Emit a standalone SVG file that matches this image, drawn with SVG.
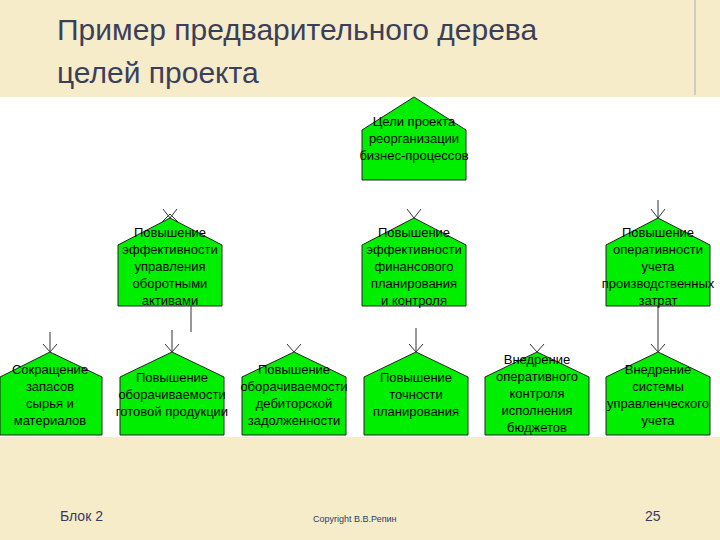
<svg xmlns="http://www.w3.org/2000/svg" width="720" height="540" viewBox="0 0 720 540">
<style>
.n{fill:#00ee00;stroke:#222;stroke-width:1}
.t{font-family:"Liberation Sans",Arial,sans-serif;font-size:13px;fill:#000;text-anchor:middle}
.c{stroke:#333;stroke-width:1;fill:none}
.h{font-family:"Liberation Sans",Arial,sans-serif;font-size:30px;fill:#3a3f5c}
.f{font-family:"Liberation Sans",Arial,sans-serif;fill:#333a66}
</style>
<rect width="720" height="540" fill="#f7ecc9"/>
<rect x="0" y="97" width="720" height="340" fill="#fff"/>
<line x1="695" y1="0" x2="695" y2="95" stroke="#aab" stroke-width="1"/>
<text class="h" x="57" y="40">Пример предварительного дерева</text>
<text class="h" x="57" y="83">целей проекта</text>

<g id="connectors" class="c">
<line x1="658" y1="200" x2="658" y2="218"/>
<line x1="191" y1="306" x2="191" y2="332"/>
<line x1="658" y1="306" x2="658" y2="352"/>
<line x1="50" y1="332" x2="50" y2="352"/>
<line x1="172" y1="330" x2="172" y2="352"/>
<line x1="416" y1="328" x2="416" y2="352"/>
<path d="M163 209 L170 218 L177 209 M160 224 L170 214 L180 224"/>
<path d="M407 209 L414 218 L421 209"/>
<path d="M651 209 L658 218 L665 209"/>
<path d="M43 344 L50 352 L57 344"/>
<path d="M165 344 L172 352 L179 344"/>
<path d="M287 344 L294 352 L301 344"/>
<path d="M409 344 L416 352 L423 344"/>
<path d="M530 344 L537 352 L544 344"/>
<path d="M651 344 L658 352 L665 344"/>
</g>

<g id="n0"><path class="n" d="M362 130 L414 97 L466 130 L466 180 L362 180 Z"/>
<text class="t" x="414" y="126">Цели проекта</text><text class="t" x="414" y="143">реорганизации</text><text class="t" x="414" y="160">бизнес-процессов</text></g>

<g id="n1"><path class="n" d="M118 245 L170 218 L222 245 L222 306 L118 306 Z"/>
<text class="t" x="170" y="237">Повышение</text><text class="t" x="170" y="254">эффективности</text><text class="t" x="170" y="271">управления</text><text class="t" x="170" y="288">оборотными</text><text class="t" x="170" y="305">активами</text></g>

<g id="n2"><path class="n" d="M362 245 L414 218 L466 245 L466 306 L362 306 Z"/>
<text class="t" x="414" y="237">Повышение</text><text class="t" x="414" y="254">эффективности</text><text class="t" x="414" y="271">финансового</text><text class="t" x="414" y="288">планирования</text><text class="t" x="414" y="305">и контроля</text></g>

<g id="n3"><path class="n" d="M606 245 L658 218 L710 245 L710 306 L606 306 Z"/>
<text class="t" x="658" y="237">Повышение</text><text class="t" x="658" y="254">оперативности</text><text class="t" x="658" y="271">учета</text><text class="t" x="658" y="288">производственных</text><text class="t" x="658" y="305">затрат</text></g>

<g id="b1"><path class="n" d="M0 377 L50 352 L102 377 L102 435 L0 435 Z"/>
<text class="t" x="50" y="374">Сокращение</text><text class="t" x="50" y="391">запасов</text><text class="t" x="50" y="408">сырья и</text><text class="t" x="50" y="425">материалов</text></g>

<g id="b2"><path class="n" d="M120 377 L172 352 L224 377 L224 435 L120 435 Z"/>
<text class="t" x="172" y="382">Повышение</text><text class="t" x="172" y="399">оборачиваемости</text><text class="t" x="172" y="416">готовой продукции</text></g>

<g id="b3"><path class="n" d="M242 377 L294 352 L346 377 L346 435 L242 435 Z"/>
<text class="t" x="294" y="374">Повышение</text><text class="t" x="294" y="391">оборачиваемости</text><text class="t" x="294" y="408">дебиторской</text><text class="t" x="294" y="425">задолженности</text></g>

<g id="b4"><path class="n" d="M364 377 L416 352 L468 377 L468 435 L364 435 Z"/>
<text class="t" x="416" y="382">Повышение</text><text class="t" x="416" y="399">точности</text><text class="t" x="416" y="416">планирования</text></g>

<g id="b5"><path class="n" d="M485 377 L537 352 L589 377 L589 435 L485 435 Z"/>
<text class="t" x="537" y="364">Внедрение</text><text class="t" x="537" y="381">оперативного</text><text class="t" x="537" y="398">контроля</text><text class="t" x="537" y="415">исполнения</text><text class="t" x="537" y="432">бюджетов</text></g>

<g id="b6"><path class="n" d="M606 377 L658 352 L710 377 L710 435 L606 435 Z"/>
<text class="t" x="658" y="374">Внедрение</text><text class="t" x="658" y="391">системы</text><text class="t" x="658" y="408">управленческого</text><text class="t" x="658" y="425">учета</text></g>

<text class="f" x="60" y="521" font-size="14">Блок 2</text>
<text class="f" x="313" y="522" font-size="9">Copyright В.В.Репин</text>
<text class="f" x="645" y="521" font-size="14">25</text>
</svg>
